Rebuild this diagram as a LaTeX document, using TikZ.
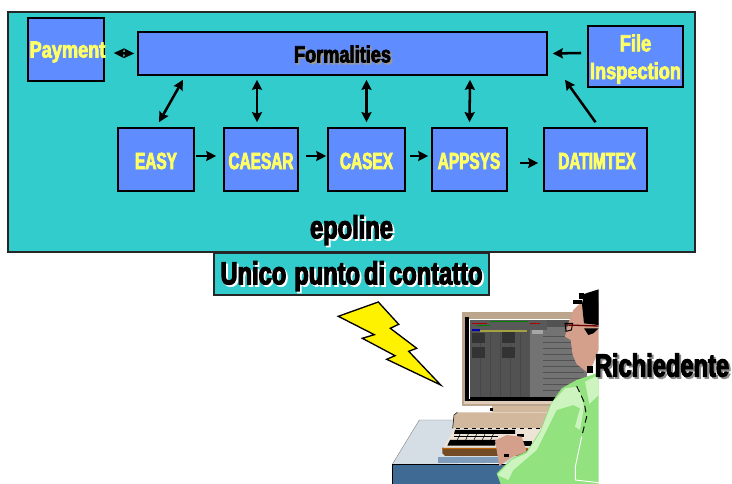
\documentclass[tikz,border=0pt]{standalone}
\usepackage{fontspec}
\usetikzlibrary{arrows.meta,calc}
\newfontfamily\impf[FakeStretch=0.66,FakeBold=3]{Liberation Sans Bold}
\newfontfamily\impm[FakeStretch=0.78,FakeBold=3]{Liberation Sans Bold}
\newfontfamily\impb[FakeStretch=0.74,FakeBold=3.5]{Liberation Sans Bold}
\newcommand{\shad}[2]{\rlap{\hspace{1.4pt}\raisebox{-1.4pt}{\color{#1}#2}}#2}
\definecolor{teal1}{HTML}{33CCCC}
\definecolor{blue1}{HTML}{5F8DFF}
\definecolor{yel1}{HTML}{FFFF66}
\definecolor{tan1}{HTML}{BCA58D}
\definecolor{tan2}{HTML}{D2B89C}
\definecolor{skin}{HTML}{D4A08C}
\definecolor{shirt}{HTML}{92E27F}
\definecolor{shirtl}{HTML}{CDF3BF}
\definecolor{desk}{HTML}{D5DDE5}
\definecolor{deskf}{HTML}{3F6A94}
\definecolor{desks}{HTML}{7F9DBB}
\tikzset{
  panel/.style={draw=black!85,line width=1.2pt,fill=teal1,inner sep=0pt},
  bbox/.style={draw=black,line width=1.2pt,fill=blue1,inner sep=0pt,text=yel1,align=center},
  lbl/.style={inner sep=0pt,font=\impf\fontsize{17.5}{25}\selectfont},
  mlbl/.style={inner sep=0pt,font=\impm\fontsize{17.5}{25}\selectfont},
  biglbl/.style={inner sep=0pt,font=\impb\fontsize{24}{28}\selectfont},
  arr/.style={line width=1.9pt,-{Stealth[length=7.5pt,width=7.5pt,inset=1pt]}},
  darr/.style={line width=1.9pt,{Stealth[length=7.5pt,width=7.5pt,inset=1pt]}-{Stealth[length=7.5pt,width=7.5pt,inset=1pt]}},
  sarr/.style={line width=1.9pt,{Stealth[length=7.5pt,width=7pt,inset=1pt]}-{Stealth[length=7.5pt,width=7pt,inset=1pt]}}
}
\begin{document}
\begin{tikzpicture}[x=0.75pt,y=-0.75pt]
\useasboundingbox (0,0) rectangle (732,484);
% main panel
\node[panel,minimum width=687*0.75pt,minimum height=240*0.75pt] (main) at (351.5,132) {};
\node[panel,minimum width=275*0.75pt,minimum height=42*0.75pt] (unico) at (351.5,274) {};
% boxes
\node[bbox,minimum width=76*0.75pt,minimum height=63*0.75pt] (pay) at (66,49.5) {};
\node[bbox,minimum width=409*0.75pt,minimum height=43*0.75pt] (form) at (342.5,53.5) {};
\node[bbox,minimum width=95*0.75pt,minimum height=61*0.75pt] (file) at (635.5,56.5) {};
\node[bbox,minimum width=76*0.75pt,minimum height=63*0.75pt] (easy) at (156,159.5) {};
\node[bbox,minimum width=74*0.75pt,minimum height=63*0.75pt] (caesar) at (261,159.5) {};
\node[bbox,minimum width=77*0.75pt,minimum height=63*0.75pt] (casex) at (366.5,159.5) {};
\node[bbox,minimum width=75*0.75pt,minimum height=63*0.75pt] (appsys) at (469.5,159.5) {};
\node[bbox,minimum width=103*0.75pt,minimum height=63*0.75pt] (datim) at (595.5,159.5) {};
% labels
\node[mlbl,text=yel1] (payt) at (67.5,52) {Payment};
\node[mlbl] (formt) at (342.5,55) {\shad{black!40}{Formalities}};
\node[mlbl,text=yel1] (filet) at (635.5,43) {File};
\node[mlbl,text=yel1] (inspt) at (635.5,73) {Inspection};
\node[lbl,text=yel1] (easyt) at (156,161) {EASY};
\node[lbl,text=yel1] (caesart) at (261,161) {CAESAR};
\node[lbl,text=yel1] (casext) at (366.5,161) {CASEX};
\node[lbl,text=yel1] (appsyst) at (469,161) {APPSYS};
\node[lbl,text=yel1] (datimt) at (597,161) {DATIMTEX};
\node[biglbl] (epol) at (351.5,231) {\shad{white}{epoline}};
\node[biglbl] (unicot) at (351.5,277) {\shad{white}{\spaceskip=3pt\relax Unico\ \ punto di contatto}};
% connectors
\draw[sarr] ([shift={(9,3.5)}]pay.east) -- ([shift={(-3,0)}]form.west);
\draw[darr] ([shift={(3,-5)}]easy.north) -- ([shift={(-159.5,4)}]form.south);
\draw[darr] ([shift={(-4,-5)}]caesar.north) -- ([shift={(-85.5,4)}]form.south);
\draw[darr] ([shift={(0,-5)}]casex.north) -- ([shift={(24,4)}]form.south);
\draw[darr] ([shift={(0,-5)}]appsys.north) -- ([shift={(127.5,4)}]form.south);
\draw[arr] ([shift={(0,-5)}]datim.north) -- ([shift={(222.5,4)}]form.south);
\draw[arr] ([shift={(-6,-3.5)}]file.west) -- ([shift={(5,0)}]form.east);
\draw[arr] ([shift={(1,-3.5)}]easy.east) -- ([shift={(-7,-3.5)}]caesar.west);
\draw[arr] ([shift={(7,-3.5)}]caesar.east) -- ([shift={(-1,-3.5)}]casex.west);
\draw[arr] ([shift={(4,-3.5)}]casex.east) -- ([shift={(-3,-3.5)}]appsys.west);
\draw[arr] ([shift={(12,3.5)}]appsys.east) -- ([shift={(-5,3.5)}]datim.west);
% lightning
\draw[fill=yellow,draw=black,line width=1pt,line join=miter]
 (378.3,302) -- (338.3,316.3) -- (374.3,334.7) -- (362.3,338.3) -- (395,355.7) -- (386.7,359.3) -- (440.7,385) -- (408.7,351.3) -- (416.7,348.3) -- (390.3,328.3) -- (398.7,324.3) -- cycle;
% illustration
\begin{scope}[shift={(380,280)},x=0.25pt,y=-0.25pt]
 % desk
 \fill[desk] (118,420) -- (240,420) -- (600,548) -- (37,553) -- cycle;
 \draw[black!50,line width=.3pt] (37,553) -- (118,420) -- (225,420);
 \fill[desks] (175,532) -- (360,532) -- (360,549) -- (175,549) -- cycle;
 \fill[deskf] (37,555) rectangle (585,612);
 \draw[black,line width=1pt] (37,612) -- (37,553) -- (585,553);
 % monitor
 \fill[tan1] (247,97) rectangle (600,378);
 \fill[tan2!70!white] (252,362) rectangle (530,373);
 \fill[black] (256,112) rectangle (268,362);
 \fill[black] (256,350) rectangle (600,362);
 \fill[white] (266,117) rectangle (620,121);
 \fill[white] (266,117) rectangle (270,356);
 \fill[black!68] (270,121) rectangle (622,352);
 \fill[black!55] (450,140) rectangle (622,352);
 \foreach \yy in {170,188,206,224,242,260,278,296,314,332}
   \draw[black!68,line width=.6pt] (490,\yy) -- (612,\yy);
 \foreach \xx in {300,330,360,390,420}
   \draw[black!72,line width=.25pt] (\xx,160) -- (\xx,350);
 \fill[black!80] (275,160) rectangle (315,190);
 \fill[black!80] (275,200) rectangle (315,235);
 \fill[black!80] (365,155) rectangle (405,190);
 \fill[black!80] (365,200) rectangle (405,235);
 \fill[black!35] (455,142) rectangle (488,162);
 \fill[black!65] (270,121) rectangle (500,150);
 \draw[red!70!black,line width=.8pt] (275,130) -- (320,130) (450,130) -- (480,130);
 \draw[green!50!black,line width=.8pt] (330,125) -- (445,125) (290,137) -- (330,137);
 \draw[yellow!60!black,line width=.8pt] (300,153) -- (440,153);
 \draw[blue!70!black,line width=.8pt] (275,150) -- (300,150);
 % stand and base
 \fill[tan2] (337,378) rectangle (510,397);
 \fill[black] (330,384) rectangle (340,393);
 \fill[tan2] (232,397) -- (510,397) -- (490,445) -- (218,445) -- (222,405) -- cycle;
 \draw[black,line width=.4pt] (232,397) -- (222,405) -- (218,445);
 % keyboard
 \fill[brown!60!black] (187,503) -- (445,503) -- (440,528) -- (195,528) -- (187,520) -- cycle;
 \fill[orange!75!black] (187,503) rectangle (445,508);
 \fill[tan2!40!white] (222,445) -- (490,445) -- (455,503) -- (190,503) -- cycle;
 \fill[black] (225,450) -- (405,450) -- (405,462) -- (222,462) -- cycle;
 \fill[black] (210,480) -- (350,480) -- (345,497) -- (202,497) -- cycle;
 \fill[black] (430,482) rectangle (455,497);
 \fill[black] (412,462) rectangle (432,472);
 \foreach \xx in {240,265,290,315,340}
   \draw[black,line width=.4pt] (\xx,462) -- (\xx-8,480);
 \draw[black,line width=.4pt] (222,470) -- (355,470);
 \draw[black,dashed,line width=.4pt] (228,445) -- (490,445);
 % hand
 \fill[skin] (345,482) -- (380,465) -- (425,470) -- (440,515) -- (395,532) -- (358,558) -- (350,510) -- cycle;
 \fill[black] (372,523) rectangle (388,531);
 % shirt
 \fill[shirt] (656,278) -- (590,300) -- (545,325) -- (510,375) -- (482,450) -- (440,515) -- (395,535) -- (350,580) -- (362,612) -- (656,612) -- cycle;
 \fill[shirtl] (615,305) -- (656,285) -- (656,345) -- (628,372) -- cycle;
 \fill[shirtl] (555,325) -- (595,320) -- (612,380) -- (600,450) -- (585,440) -- (600,385) -- (580,375) -- (530,390) -- (500,450) -- (470,510) -- (400,570) -- (385,600) -- (352,585) -- (395,540) -- (440,520) -- (482,455) -- (515,370) -- cycle;
 \draw[black,dash pattern=on 5pt off 3pt,line width=.7pt] (590,318) -- (612,365) -- (620,410) -- (605,470);
 \draw[white,line width=.7pt] (605,470) -- (586,560) -- (586,600) -- (656,608);
 % head
 \fill[skin] (580,90) -- (605,65) -- (656,65) -- (656,210) -- (640,250) -- (625,280) -- (590,252) -- (578,225) -- (572,180) -- (555,170) -- (565,130) -- cycle;
 \fill[black] (606,72) -- (612,42) -- (656,28) -- (656,135) -- (612,130) -- cycle;
 \fill[black] (578,60) rectangle (606,72);
 \fill[black] (596,40) rectangle (612,56);
 \fill[black] (612,145) -- (656,145) -- (640,160) -- (625,165) -- cycle;
 \draw[black,line width=.7pt] (555,130) -- (578,130) -- (574,150) -- (558,154) -- cycle;
 \draw[red!40!black,line width=1pt] (558,135) -- (656,138);
 \fill[black] (622,258) rectangle (640,278);
\end{scope}
\node[biglbl] (rich) at (662,366) {\shad{black!45}{Richiedente}};
\end{tikzpicture}
\end{document}
